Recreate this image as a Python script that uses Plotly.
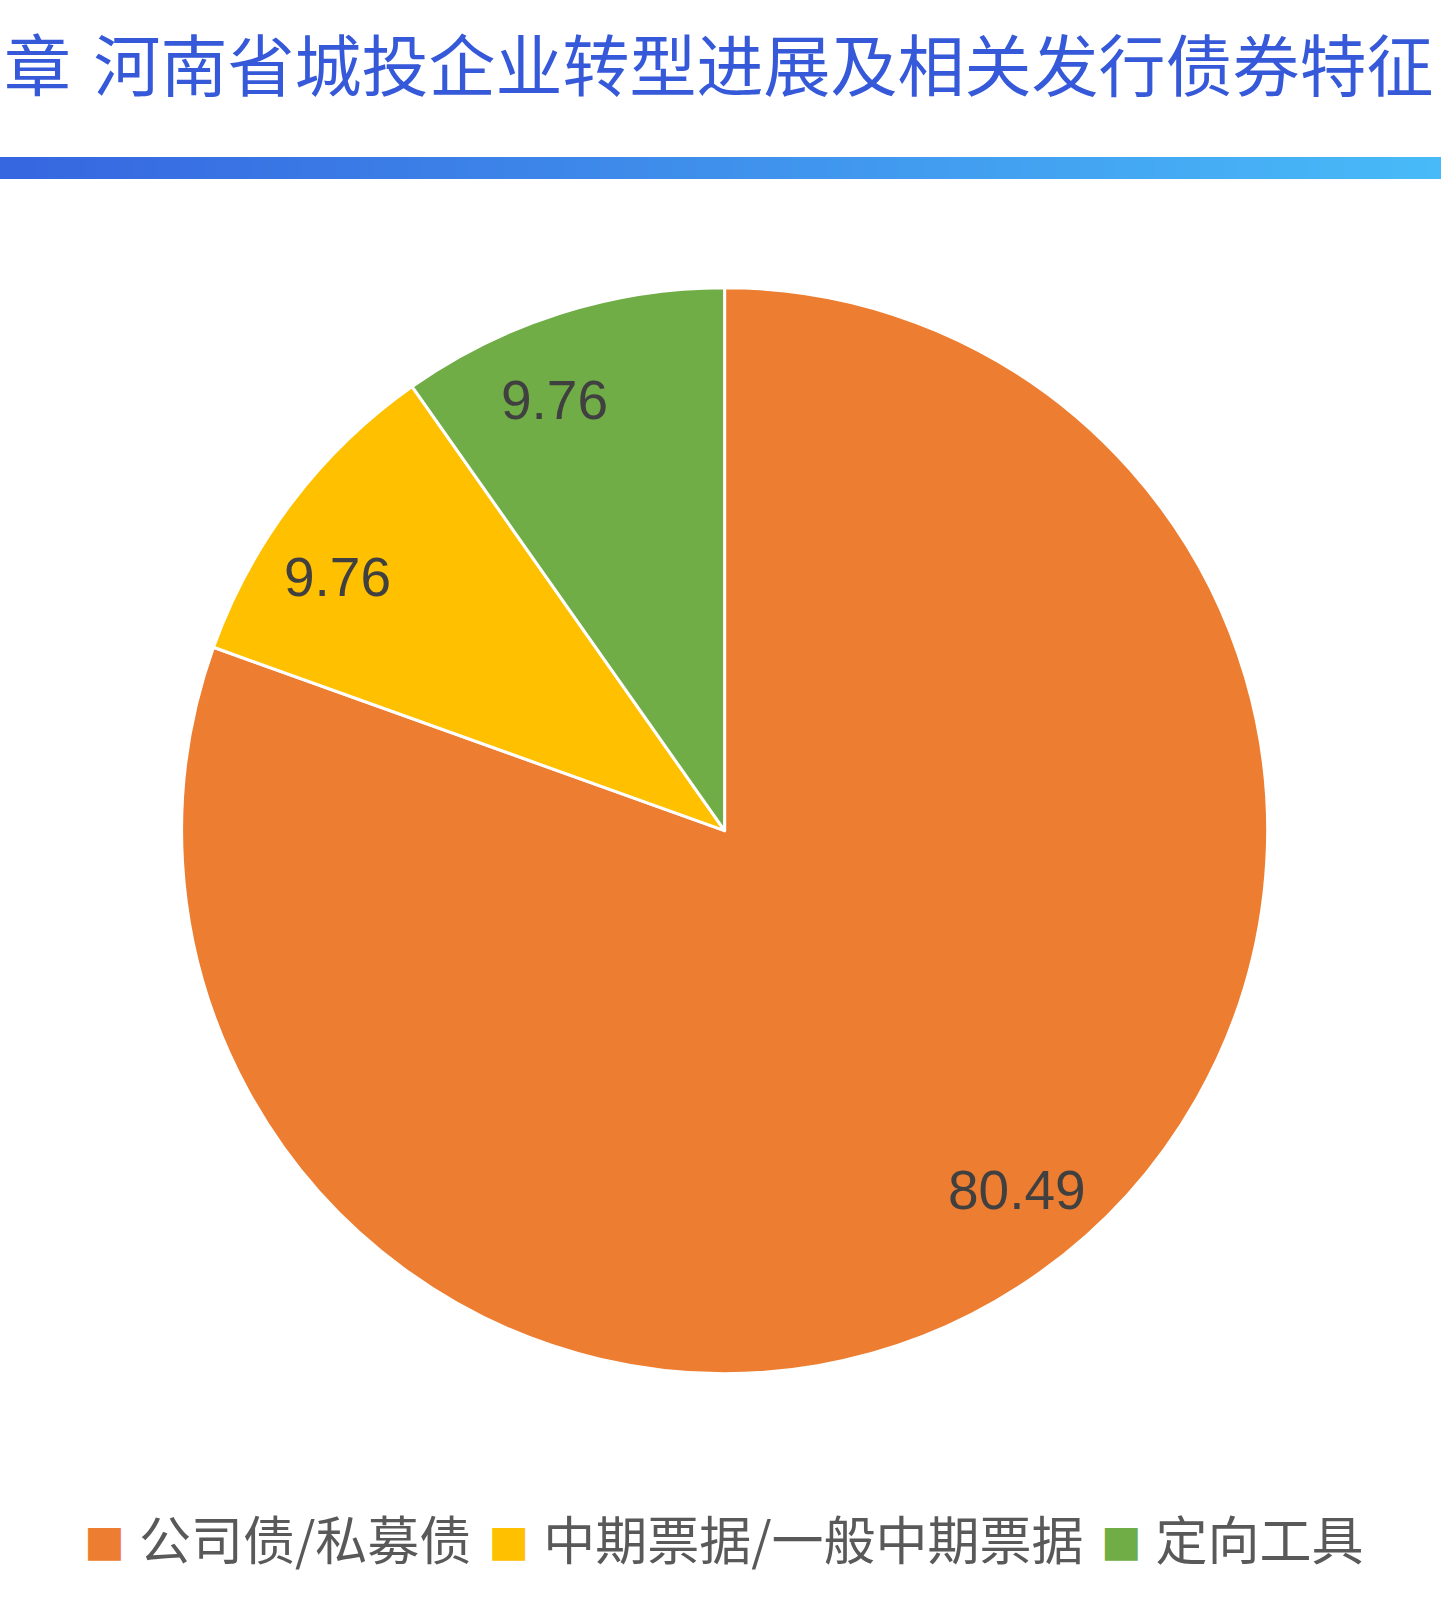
import math
import plotly.graph_objects as go

# ---- data ----
categories = ["公司债/私募债", "中期票据/一般中期票据", "定向工具"]
values = [80.49, 9.76, 9.76]
colors = ["#ED7D31", "#FFC000", "#70AD47"]
title_text = "章<span style='font-size:100px'>\u00a0</span>河南省城投企业转型进展及相关发行债券特征"

W, H = 1441, 1598
CJK = "Noto Sans CJK SC"
dom_x = [0.1260, 0.8797]
dom_y = [0.1404, 0.8200]

fig = go.Figure()
fig.add_trace(go.Pie(
    labels=categories,
    values=values,
    sort=False,
    direction="clockwise",
    rotation=0,
    marker=dict(colors=colors, line=dict(color="#FFFFFF", width=3)),
    textinfo="none",
    hoverinfo="label+value",
    showlegend=False,
    domain=dict(x=dom_x, y=dom_y),
))

# value labels placed near each slice's bisector (angles derived from the values)
cx = (dom_x[0] + dom_x[1]) / 2 * W
cy_top = (1 - (dom_y[0] + dom_y[1]) / 2) * H
radius = min((dom_x[1] - dom_x[0]) * W, (dom_y[1] - dom_y[0]) * H) / 2
label_r = 0.852 * radius
label_turn = math.radians(-4)
total = sum(values)
annotations = []
cum = 0.0
for v in values:
    mid = (cum + v / 2) / total * 2 * math.pi + label_turn
    cum += v
    px = cx + label_r * math.sin(mid)
    py = cy_top - label_r * math.cos(mid)
    annotations.append(dict(
        text="{:.2f}".format(v), xref="paper", yref="paper",
        x=px / W, y=1 - py / H, xanchor="center", yanchor="middle",
        showarrow=False,
        font=dict(family="Liberation Sans, Arial", size=55, color="#404040")))

# gradient band under the title
n = 120
c0 = (0x36, 0x66, 0xE0)
c1 = (0x48, 0xBA, 0xF8)
shapes = []
for i in range(n):
    t = i / (n - 1)
    col = "rgb({},{},{})".format(*[round(a + (b - a) * t) for a, b in zip(c0, c1)])
    shapes.append(dict(type="rect", xref="paper", yref="paper",
                       x0=i / n, x1=(i + 1) / n + 0.001,
                       y0=1 - 179 / H, y1=1 - 157 / H,
                       fillcolor=col, line=dict(width=0), layer="below"))

# legend built from categories/colors
gap_in = "<span style='font-size:62px'>\u00a0</span>"
gap_out = "<span style='font-size:76px'>\u00a0</span>"
parts = []
for cat, col in zip(categories, colors):
    parts.append("<span style='color:{};font-size:41px'>■</span>{}{}".format(col, gap_in, cat))
legend_text = gap_out.join(parts)

annotations += [
    dict(text=title_text, xref="paper", yref="paper", x=2 / W, y=1 - 47 / H,
         xanchor="left", yanchor="middle", showarrow=False,
         font=dict(family=CJK, size=67, color="#3559D8")),
    dict(text=legend_text, xref="paper", yref="paper", x=724 / W, y=1 - 1527 / H,
         xanchor="center", yanchor="middle", showarrow=False,
         font=dict(family=CJK, size=52, color="#595959")),
]

fig.update_layout(
    width=W, height=H,
    margin=dict(l=0, r=0, t=0, b=0),
    paper_bgcolor="white", plot_bgcolor="white",
    shapes=shapes, annotations=annotations,
    showlegend=False,
)

fig.write_html("out.html")
